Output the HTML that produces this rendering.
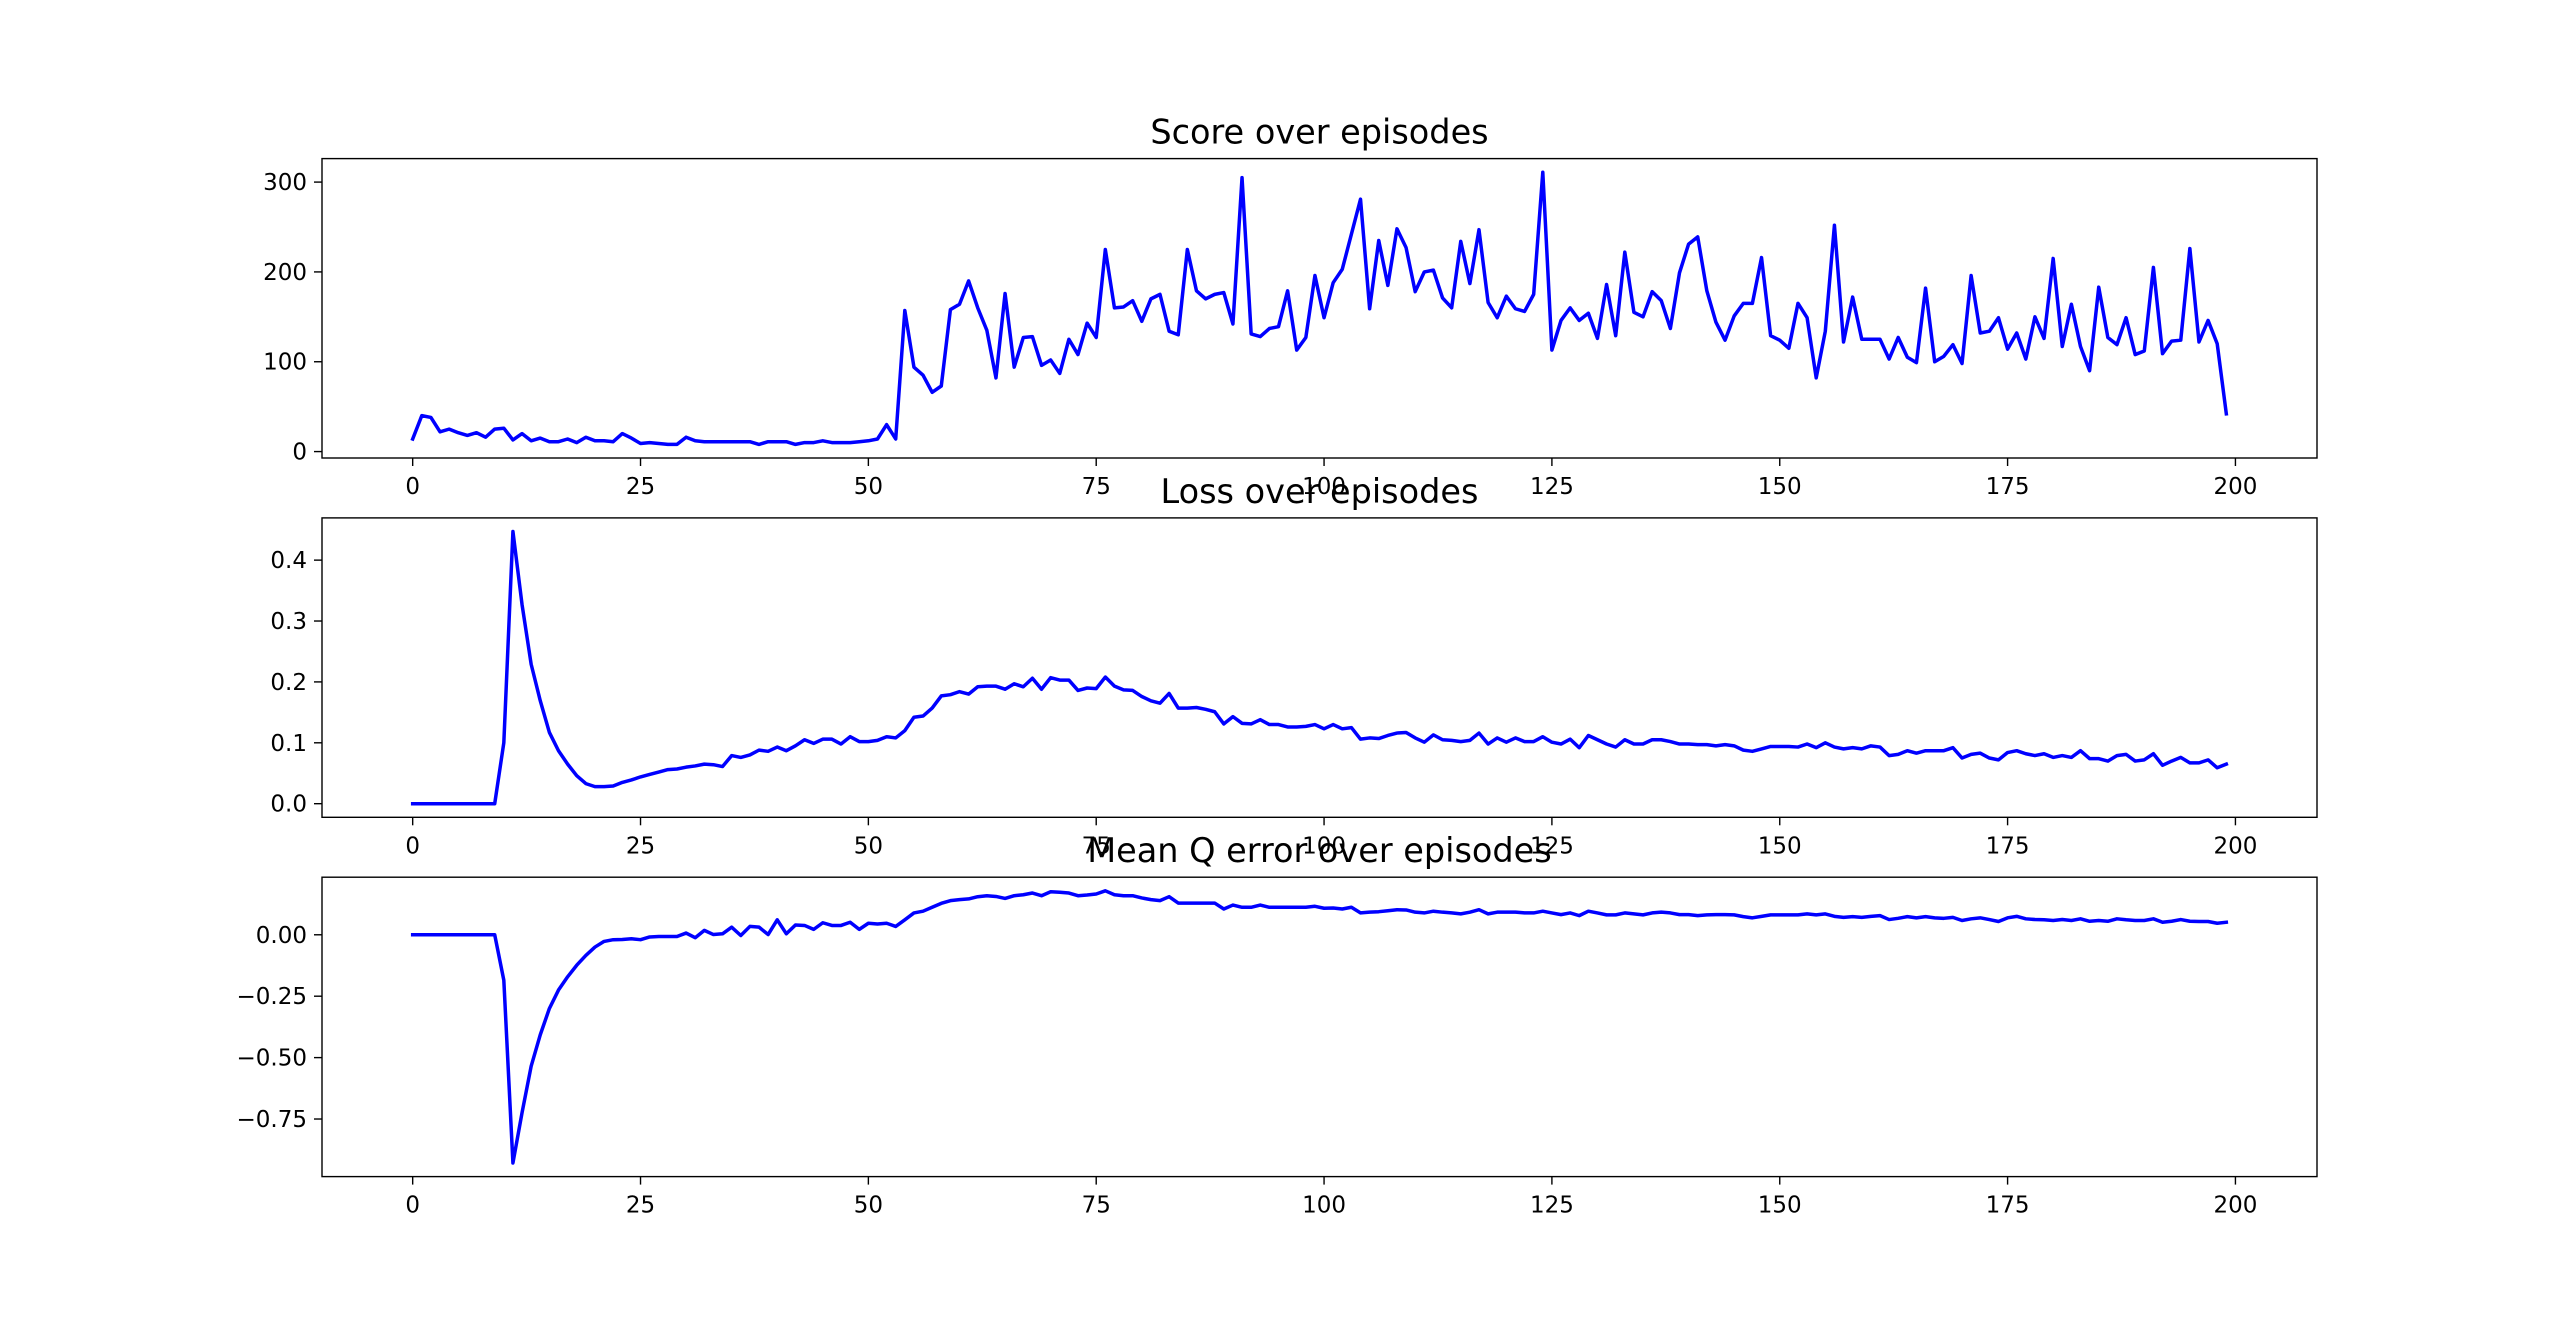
<!DOCTYPE html>
<html><head><meta charset="utf-8"><style>
html,body{margin:0;padding:0;background:#fff;}
svg{display:block;font-family:"DejaVu Sans","Liberation Sans",sans-serif;}
</style></head><body>
<svg id="fig" width="2574" height="1322" viewBox="0 0 2574 1322" xmlns="http://www.w3.org/2000/svg"></svg>
<script>
const episodes = Array.from({length:200},(_,i)=>i);
const scoreValues = [14,40,38,22,25,21,18,21,16,25,26,13,20,12,15,11,11,14,10,16,12,12,11,20,15,9,10,9,8,8,16,12,11,11,11,11,11,11,8,11,11,11,8,10,10,12,10,10,10,11,12,14,30,14,157,94,85,66,73,158,164,190,160,135,82,176,94,127,128,96,102,87,125,108,143,127,225,160,161,168,145,170,175,134,130,225,179,170,175,177,142,305,131,128,137,139,179,113,127,196,149,188,203,242,281,159,235,185,248,227,178,200,202,171,160,234,187,247,166,149,173,159,156,175,311,113,146,160,146,154,126,186,129,222,155,150,178,168,137,199,231,239,179,144,124,151,165,165,216,129,124,115,165,149,82,134,252,122,172,125,125,125,103,127,105,99,182,100,106,119,98,196,132,134,149,114,132,103,150,126,215,117,164,117,90,183,127,119,149,108,112,205,109,123,124,226,122,146,120,42];
const lossValues = [0,0,0,0,0,0,0,0,0,0,0.10,0.447,0.327,0.229,0.169,0.117,0.087,0.065,0.046,0.033,0.028,0.028,0.029,0.035,0.039,0.044,0.048,0.052,0.056,0.057,0.060,0.062,0.065,0.064,0.061,0.079,0.076,0.080,0.088,0.086,0.093,0.087,0.095,0.105,0.099,0.106,0.106,0.098,0.110,0.102,0.102,0.104,0.110,0.108,0.120,0.142,0.144,0.157,0.177,0.179,0.184,0.180,0.192,0.193,0.193,0.188,0.197,0.192,0.206,0.188,0.207,0.203,0.203,0.186,0.190,0.189,0.208,0.193,0.187,0.186,0.176,0.169,0.165,0.181,0.157,0.157,0.158,0.155,0.151,0.131,0.143,0.132,0.131,0.138,0.130,0.130,0.126,0.126,0.127,0.130,0.123,0.130,0.123,0.125,0.106,0.108,0.107,0.112,0.116,0.117,0.108,0.101,0.113,0.105,0.104,0.102,0.104,0.116,0.098,0.108,0.101,0.108,0.102,0.102,0.110,0.101,0.098,0.106,0.092,0.112,0.105,0.098,0.093,0.105,0.098,0.098,0.105,0.105,0.102,0.098,0.098,0.097,0.097,0.095,0.097,0.095,0.088,0.086,0.090,0.094,0.094,0.094,0.093,0.098,0.092,0.100,0.093,0.090,0.092,0.090,0.095,0.093,0.079,0.081,0.087,0.083,0.087,0.087,0.087,0.092,0.075,0.081,0.083,0.075,0.072,0.084,0.087,0.082,0.079,0.082,0.076,0.079,0.076,0.087,0.074,0.074,0.070,0.079,0.081,0.070,0.072,0.082,0.063,0.070,0.076,0.067,0.067,0.072,0.059,0.065];
const qValues = [0,0,0,0,0,0,0,0,0,0,-0.185,-0.929,-0.724,-0.535,-0.407,-0.30,-0.225,-0.171,-0.124,-0.084,-0.050,-0.027,-0.020,-0.019,-0.016,-0.020,-0.009,-0.007,-0.007,-0.007,0.007,-0.012,0.018,0.001,0.004,0.031,-0.003,0.034,0.031,0.001,0.061,0.004,0.040,0.038,0.022,0.049,0.038,0.038,0.051,0.022,0.047,0.044,0.047,0.034,0.061,0.089,0.096,0.112,0.128,0.139,0.143,0.146,0.155,0.159,0.156,0.148,0.159,0.163,0.170,0.159,0.175,0.173,0.170,0.159,0.162,0.166,0.179,0.163,0.159,0.159,0.150,0.143,0.139,0.155,0.129,0.129,0.129,0.129,0.129,0.105,0.121,0.112,0.112,0.121,0.112,0.112,0.112,0.112,0.112,0.116,0.108,0.109,0.105,0.112,0.089,0.092,0.094,0.098,0.102,0.101,0.092,0.089,0.096,0.092,0.089,0.085,0.092,0.102,0.085,0.092,0.092,0.092,0.089,0.089,0.096,0.089,0.082,0.089,0.078,0.096,0.089,0.081,0.081,0.089,0.085,0.081,0.089,0.092,0.089,0.082,0.082,0.078,0.081,0.082,0.082,0.081,0.074,0.069,0.075,0.081,0.081,0.081,0.081,0.085,0.081,0.085,0.075,0.071,0.074,0.071,0.075,0.078,0.062,0.067,0.074,0.069,0.074,0.069,0.067,0.071,0.058,0.065,0.069,0.062,0.054,0.069,0.075,0.065,0.062,0.061,0.058,0.062,0.058,0.065,0.055,0.058,0.055,0.065,0.061,0.058,0.058,0.065,0.051,0.055,0.062,0.055,0.054,0.054,0.047,0.051];
const xTicks = [0,25,50,75,100,125,150,175,200];
const scoreTicks = [0,100,200,300];
const scoreTickLabels = ["0","100","200","300"];
const lossTicks = [0,0.1,0.2,0.3,0.4];
const lossTickLabels = ["0.0","0.1","0.2","0.3","0.4"];
const qTicks = [0,-0.25,-0.5,-0.75];
const qTickLabels = ["0.00","\u22120.25","\u22120.50","\u22120.75"];

const NS="http://www.w3.org/2000/svg";
const svg=document.getElementById('fig');
function mk(tag,attrs,parent){const e=document.createElementNS(NS,tag);for(const k in attrs)e.setAttribute(k,attrs[k]);(parent||svg).appendChild(e);return e;}
const L=322,R=2317,W=R-L,H=299.4;
function lims(v){const mn=Math.min(...v),mx=Math.max(...v),d=mx-mn;return [mn-0.05*d,mx+0.05*d];}
const xl=lims(episodes);
function xs(v){return L+(v-xl[0])/(xl[1]-xl[0])*W;}

function panel(top,title,values,ticks,labels,key){
  const g=mk('g',{});
  
  
  const yl=lims(values);
  const ys=v=>top+H-(v-yl[0])/(yl[1]-yl[0])*H;
  const t=mk('text',{x:(L+R)/2,y:top-15,'text-anchor':'middle','font-size':33.5,fill:'#000'},g);
  t.textContent=title;
  
  
  const d=values.map((v,i)=>(i?'L':'M')+xs(episodes[i]).toFixed(2)+' '+ys(v).toFixed(2)).join(' ');
  const p=mk('path',{d:d,fill:'none',stroke:'#0000ff','stroke-width':3.5,'stroke-linejoin':'round','stroke-linecap':'square'},g);
  
  
  const fr=mk('rect',{x:L,y:top,width:W,height:H,fill:'none',stroke:'#000','stroke-width':1.4},g);
  
  
  xTicks.forEach(v=>{
    const x=xs(v);
    mk('line',{x1:x,x2:x,y1:top+H,y2:top+H+8,stroke:'#000','stroke-width':1.4},g);
    const tx=mk('text',{x:x,y:top+H+36,'text-anchor':'middle','font-size':23,fill:'#000'},g);
    tx.textContent=String(v);
    
    
  });
  ticks.forEach((v,i)=>{
    const y=ys(v);
    mk('line',{x1:L-8,x2:L,y1:y,y2:y,stroke:'#000','stroke-width':1.4},g);
    const ty=mk('text',{x:L-15,y:y+8,'text-anchor':'end','font-size':23,fill:'#000'},g);
    ty.textContent=labels[i];
    
    
  });
}
panel(158.6,'Score over episodes',scoreValues,scoreTicks,scoreTickLabels,'score');
panel(517.9,'Loss over episodes',lossValues,lossTicks,lossTickLabels,'loss');
panel(877.2,'Mean Q error over episodes',qValues,qTicks,qTickLabels,'q-error');
</script>
</body></html>
